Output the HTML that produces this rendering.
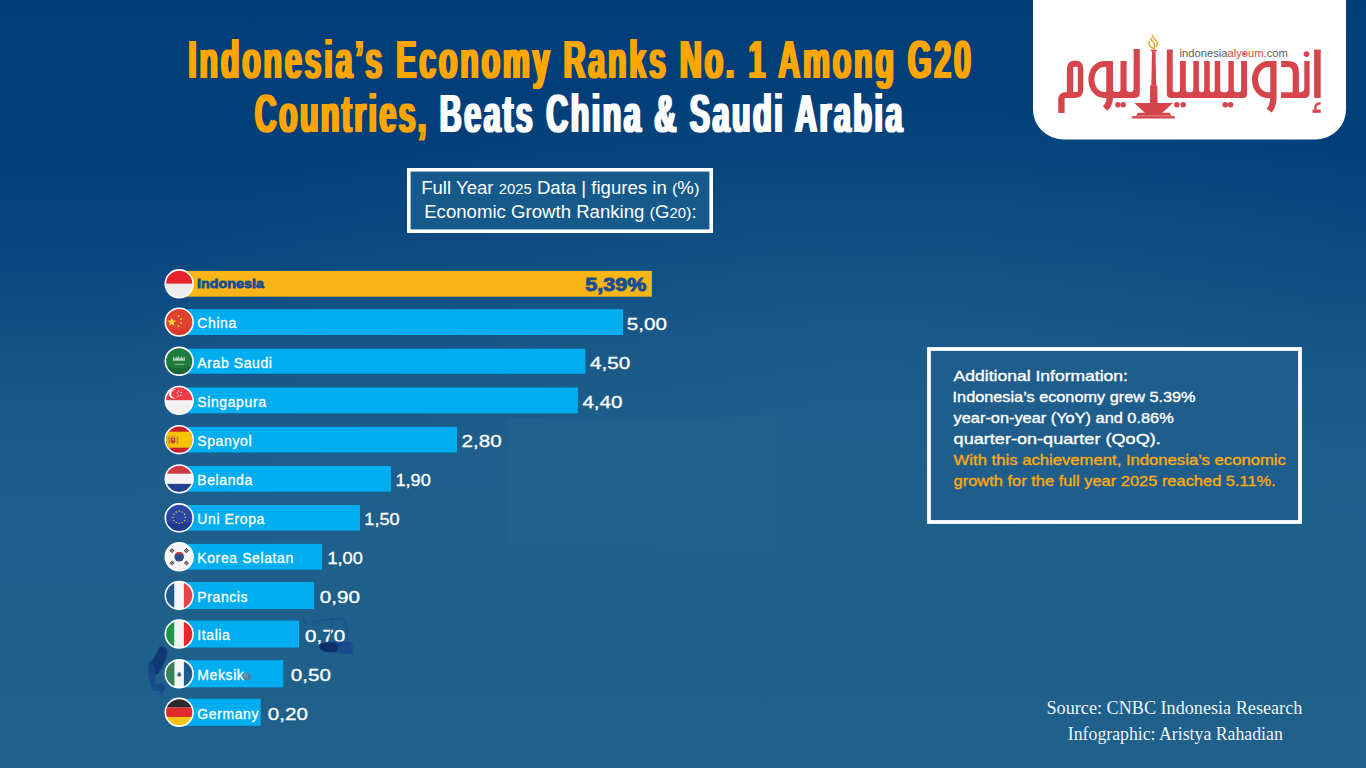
<!DOCTYPE html>
<html>
<head>
<meta charset="utf-8">
<style>
html,body{margin:0;padding:0;width:1366px;height:768px;overflow:hidden;}
body{background:linear-gradient(to bottom,#013e79 0px,#03407b 150px,#0a4680 250px,#0e4b82 300px,#175586 375px,#1d5d8a 450px,#1f5f8b 540px,#20618c 768px);font-family:"Liberation Sans",sans-serif;}
svg{position:absolute;left:0;top:0;}
#ov{position:absolute;left:0;top:0;width:1366px;height:768px;background:radial-gradient(ellipse 800px 300px at 870px 380px,rgba(33,99,141,0.6) 0%,rgba(33,99,141,0) 100%);}
.t{font-family:"Liberation Sans",sans-serif;}
.s{font-family:"Liberation Serif",serif;}
</style>
</head>
<body>
<div id="ov"></div>
<svg width="1366" height="768" viewBox="0 0 1366 768">
<defs>
  <clipPath id="cc"><circle cx="0" cy="0" r="13.1"/></clipPath>
</defs>

<rect x="507" y="418" width="269" height="127" fill="#22648e" opacity="0.6"/>
<!-- TITLE -->
<g font-family="Liberation Sans" font-size="54.0" font-weight="bold">
<text transform="translate(187.00,78.1) scale(0.56,1)" x="0" y="0" fill="#fea600" textLength="1397.32" lengthAdjust="spacing">Indonesia’s Economy Ranks No. 1 Among G20</text>
<text transform="translate(189.60,78.1) scale(0.56,1)" x="0" y="0" fill="#fea600" textLength="1397.32" lengthAdjust="spacing">Indonesia’s Economy Ranks No. 1 Among G20</text>
<text transform="translate(253.50,132.1) scale(0.56,1)" x="0" y="0" fill="#fea600" textLength="306.25" lengthAdjust="spacing">Countries,</text>
<text transform="translate(256.10,132.1) scale(0.56,1)" x="0" y="0" fill="#fea600" textLength="306.25" lengthAdjust="spacing">Countries,</text>
<text transform="translate(438.50,132.1) scale(0.56,1)" x="0" y="0" fill="#ffffff" textLength="825.89" lengthAdjust="spacing">Beats China &amp; Saudi Arabia</text>
<text transform="translate(441.10,132.1) scale(0.56,1)" x="0" y="0" fill="#ffffff" textLength="825.89" lengthAdjust="spacing">Beats China &amp; Saudi Arabia</text>
</g>

<!-- SUBTITLE BOX -->
<rect x="408.8" y="169.8" width="302.4" height="61.4" fill="#165a8c" stroke="#ffffff" stroke-width="3.6"/>
<text class="t" x="421.2" y="194" font-size="17.5" fill="#ffffff" textLength="278.2" lengthAdjust="spacingAndGlyphs">Full Year <tspan font-size="14">2025</tspan> Data | figures in <tspan font-size="15.5">(</tspan>%<tspan font-size="15.5">)</tspan></text>
<text class="t" x="424.2" y="217.8" font-size="17.5" fill="#ffffff" textLength="272.6" lengthAdjust="spacingAndGlyphs">Economic Growth Ranking <tspan font-size="15.5">(</tspan>G<tspan font-size="14">20</tspan><tspan font-size="15.5">)</tspan>:</text>

<!-- BARS -->
<g id="bars">
<rect x="182" y="270.90" width="469.90" height="25.80" fill="#f7b517"/>
<rect x="182" y="309.20" width="441.00" height="25.80" fill="#00adee"/>
<rect x="182" y="348.75" width="403.40" height="25.00" fill="#00adee"/>
<rect x="182" y="387.50" width="395.90" height="25.80" fill="#00adee"/>
<rect x="182" y="426.90" width="275.00" height="25.60" fill="#00adee"/>
<rect x="182" y="466.00" width="208.90" height="25.70" fill="#00adee"/>
<rect x="182" y="505.00" width="178.00" height="25.60" fill="#00adee"/>
<rect x="182" y="543.90" width="139.90" height="25.80" fill="#00adee"/>
<rect x="182" y="581.90" width="132.00" height="27.10" fill="#00adee"/>
<rect x="182" y="620.60" width="117.00" height="26.90" fill="#00adee"/>
<rect x="182" y="660.20" width="101.30" height="27.10" fill="#00adee"/>
<rect x="182" y="698.75" width="78.80" height="27.05" fill="#00adee"/>
<g transform="translate(179.2,283.80)"><circle r="14.7" fill="#ffffff"/><g clip-path="url(#cc)"><rect x="-15" y="-15" width="30" height="15" fill="#e8232b"/><rect x="-15" y="0" width="30" height="15" fill="#ececec"/></g></g>
<g transform="translate(179.2,322.10)"><circle r="14.7" fill="#ffffff"/><g clip-path="url(#cc)"><rect x="-15" y="-15" width="30" height="30" fill="#e0402f"/><path d="M-8.6,-5.6 l1.3,3.1 3.3,0.2 -2.6,2.1 0.9,3.2 -2.9,-1.8 -2.8,1.8 0.9,-3.2 -2.6,-2.1 3.3,-0.2z" fill="#ffd83a" transform="translate(1.1,0.8)"/><circle cx="-0.7" cy="-5.9" r="0.9" fill="#ffd83a"/><circle cx="1.8" cy="-3" r="0.9" fill="#ffd83a"/><circle cx="1.8" cy="0.9" r="0.9" fill="#ffd83a"/><circle cx="-0.7" cy="3.9" r="0.9" fill="#ffd83a"/><path d="M-15,6 Q0,11 15,6 V15 H-15Z" fill="#c8312a" opacity="0.5"/></g></g>
<g transform="translate(179.2,361.25)"><circle r="14.7" fill="#ffffff"/><g clip-path="url(#cc)"><rect x="-15" y="-15" width="30" height="30" fill="#1f7b3c"/><path d="M-15,4 Q0,10 15,4 V15 H-15Z" fill="#156030" opacity="0.7"/><g fill="#e6f0e8"><rect x="-6" y="-4.4" width="0.8" height="3.2"/><rect x="-4.6" y="-3.4" width="0.8" height="2.2"/><rect x="-3.4" y="-4.6" width="0.8" height="3.4"/><rect x="-2" y="-3.6" width="0.8" height="2.4"/><rect x="-0.8" y="-4.8" width="0.8" height="3.6"/><rect x="0.6" y="-3.4" width="0.8" height="2.2"/><rect x="1.8" y="-4.6" width="0.8" height="3.4"/><rect x="3.2" y="-3.8" width="0.8" height="2.6"/><rect x="4.6" y="-4.4" width="0.8" height="3.2"/><rect x="-6.2" y="-1.6" width="11.8" height="0.9"/></g><rect x="-5" y="2.6" width="10" height="0.7" fill="#e6f0e8" opacity="0.8"/></g></g>
<g transform="translate(179.2,400.40)"><circle r="14.7" fill="#ffffff"/><g clip-path="url(#cc)"><rect x="-15" y="-15" width="30" height="15" fill="#ee3b47"/><rect x="-15" y="0" width="30" height="15" fill="#f1f1f1"/><circle cx="-5.5" cy="-6.5" r="4.6" fill="#ffffff"/><circle cx="-3.8" cy="-6.5" r="4.2" fill="#ee3b47"/><circle cx="-0.5" cy="-9.5" r="0.7" fill="#ffffff"/><circle cx="2" cy="-8" r="0.7" fill="#ffffff"/><circle cx="1.5" cy="-5" r="0.7" fill="#ffffff"/><circle cx="-1" cy="-4.5" r="0.7" fill="#ffffff"/><circle cx="-2" cy="-7.5" r="0.7" fill="#ffffff"/></g></g>
<g transform="translate(179.2,439.70)"><circle r="14.7" fill="#ffffff"/><g clip-path="url(#cc)"><rect x="-15" y="-15" width="30" height="30" fill="#c8202a"/><rect x="-15" y="-8" width="30" height="16" fill="#f7c200"/><rect x="-10.8" y="-3" width="1.6" height="7" fill="#b88a2a"/><rect x="-2.6" y="-3" width="1.6" height="7" fill="#b88a2a"/><path d="M-8.6,-2.2 H-3.8 V2.6 Q-6.2,5.4 -8.6,2.6 Z" fill="#c23a2c" stroke="#d9a23a" stroke-width="0.6"/><path d="M-8.4,-2.6 L-8.8,-4.6 L-7.3,-3.8 L-6.2,-5.2 L-5.1,-3.8 L-3.6,-4.6 L-4,-2.6 Z" fill="#d49a2a"/><rect x="-6.7" y="-1" width="1.2" height="1.6" fill="#e8c8c0"/></g></g>
<g transform="translate(179.2,478.85)"><circle r="14.7" fill="#ffffff"/><g clip-path="url(#cc)"><rect x="-15" y="-15" width="30" height="10" fill="#cf3a45"/><rect x="-15" y="-5" width="30" height="10" fill="#f4f4f4"/><rect x="-15" y="5" width="30" height="10" fill="#24418f"/></g></g>
<g transform="translate(179.2,517.80)"><circle r="14.7" fill="#ffffff"/><g clip-path="url(#cc)"><rect x="-15" y="-15" width="30" height="30" fill="#2a47a6"/><path d="M-15,3 Q0,9 15,3 V15 H-15Z" fill="#1f3a92"/><circle cx="6.10" cy="-0.50" r="0.7" fill="#f3d23a"/><circle cx="5.28" cy="2.55" r="0.7" fill="#f3d23a"/><circle cx="3.05" cy="4.78" r="0.7" fill="#f3d23a"/><circle cx="0.00" cy="5.60" r="0.7" fill="#f3d23a"/><circle cx="-3.05" cy="4.78" r="0.7" fill="#f3d23a"/><circle cx="-5.28" cy="2.55" r="0.7" fill="#f3d23a"/><circle cx="-6.10" cy="-0.50" r="0.7" fill="#f3d23a"/><circle cx="-5.28" cy="-3.55" r="0.7" fill="#f3d23a"/><circle cx="-3.05" cy="-5.78" r="0.7" fill="#f3d23a"/><circle cx="-0.00" cy="-6.60" r="0.7" fill="#f3d23a"/><circle cx="3.05" cy="-5.78" r="0.7" fill="#f3d23a"/><circle cx="5.28" cy="-3.55" r="0.7" fill="#f3d23a"/></g></g>
<g transform="translate(179.2,556.80)"><circle r="14.7" fill="#ffffff"/><g clip-path="url(#cc)"><rect x="-15" y="-15" width="30" height="30" fill="#f5f5f5"/><circle r="4.8" fill="#2d4f8a"/><path d="M-4.4,-2 A4.8,4.8 0 0 1 4.4,-2 Q0,-3.6 -4.4,-2Z" fill="#d7343e"/><g transform="translate(-7.2,-6.2) rotate(45)"><rect x="-1.9" y="-1.7" width="3.8" height="0.9" fill="#3a3a3a"/><rect x="-1.9" y="-0.45" width="3.8" height="0.9" fill="#3a3a3a"/><rect x="-1.9" y="0.8" width="3.8" height="0.9" fill="#3a3a3a"/></g><g transform="translate(7.2,-6.2) rotate(-45)"><rect x="-1.9" y="-1.7" width="3.8" height="0.9" fill="#3a3a3a"/><rect x="-1.9" y="-0.45" width="3.8" height="0.9" fill="#3a3a3a"/><rect x="-1.9" y="0.8" width="3.8" height="0.9" fill="#3a3a3a"/></g><g transform="translate(-7.2,6.2) rotate(-45)"><rect x="-1.9" y="-1.7" width="3.8" height="0.9" fill="#3a3a3a"/><rect x="-1.9" y="-0.45" width="3.8" height="0.9" fill="#3a3a3a"/><rect x="-1.9" y="0.8" width="3.8" height="0.9" fill="#3a3a3a"/></g><g transform="translate(7.2,6.2) rotate(45)"><rect x="-1.9" y="-1.7" width="3.8" height="0.9" fill="#3a3a3a"/><rect x="-1.9" y="-0.45" width="3.8" height="0.9" fill="#3a3a3a"/><rect x="-1.9" y="0.8" width="3.8" height="0.9" fill="#3a3a3a"/></g></g></g>
<g transform="translate(179.2,595.45)"><circle r="14.7" fill="#ffffff"/><g clip-path="url(#cc)"><rect x="-15" y="-15" width="10.3" height="30" fill="#1d5b8e"/><rect x="-4.7" y="-15" width="9.4" height="30" fill="#f5f5f5"/><rect x="4.7" y="-15" width="10.3" height="30" fill="#e6444f"/></g></g>
<g transform="translate(179.2,634.05)"><circle r="14.7" fill="#ffffff"/><g clip-path="url(#cc)"><rect x="-15" y="-15" width="10.3" height="30" fill="#1e9447"/><rect x="-4.7" y="-15" width="9.4" height="30" fill="#f1f1f1"/><rect x="4.7" y="-15" width="10.3" height="30" fill="#e8262f"/></g></g>
<g transform="translate(179.2,673.75)"><circle r="14.7" fill="#ffffff"/><g clip-path="url(#cc)"><rect x="-15" y="-15" width="10.3" height="30" fill="#3d8a66"/><rect x="-4.7" y="-15" width="9.4" height="30" fill="#f5f5f5"/><rect x="4.7" y="-15" width="10.3" height="30" fill="#1d5b8e"/><path d="M-15,-15 H-4.7 V15 H-15Z" fill="#2d7a4e" opacity="0.5"/><ellipse cx="0" cy="0.5" rx="1.6" ry="2.1" fill="#2c5a8c"/><path d="M-2.5,1.5 Q0,4 2.5,1.5" stroke="#3d8a66" stroke-width="0.8" fill="none"/></g></g>
<g transform="translate(179.2,712.27)"><circle r="14.7" fill="#ffffff"/><g clip-path="url(#cc)"><rect x="-15" y="-15" width="30" height="10.3" fill="#2b2b2b"/><rect x="-15" y="-4.7" width="30" height="9.4" fill="#e02a2c"/><rect x="-15" y="4.7" width="30" height="10.3" fill="#f8c617"/></g></g>
<text class="t" x="197.0" y="287.9" font-size="13.6" font-weight="bold" fill="#1b4d92" stroke="#1b4d92" stroke-width="0.8" textLength="67" lengthAdjust="spacingAndGlyphs">Indonesia</text>
<text class="t" x="585.3" y="291.20" font-size="18.4" font-weight="bold" fill="#1b4d92" stroke="#1b4d92" stroke-width="0.9" textLength="61" lengthAdjust="spacingAndGlyphs">5,39%</text>
<text class="t" x="197.3" y="328.40" font-size="14" fill="#ffffff" letter-spacing="0.6" stroke="#ffffff" stroke-width="0.3">China</text>
<text class="t" x="626.80" y="329.60" font-size="16.4" fill="#ffffff" stroke="#ffffff" stroke-width="0.3" textLength="40.2" lengthAdjust="spacingAndGlyphs">5,00</text>
<text class="t" x="197.3" y="367.55" font-size="14" fill="#ffffff" letter-spacing="0.6" stroke="#ffffff" stroke-width="0.3">Arab Saudi</text>
<text class="t" x="590.10" y="368.75" font-size="16.4" fill="#ffffff" stroke="#ffffff" stroke-width="0.3" textLength="40.2" lengthAdjust="spacingAndGlyphs">4,50</text>
<text class="t" x="197.3" y="406.70" font-size="14" fill="#ffffff" letter-spacing="0.6" stroke="#ffffff" stroke-width="0.3">Singapura</text>
<text class="t" x="582.40" y="407.90" font-size="16.4" fill="#ffffff" stroke="#ffffff" stroke-width="0.3" textLength="40.2" lengthAdjust="spacingAndGlyphs">4,40</text>
<text class="t" x="197.3" y="446.00" font-size="14" fill="#ffffff" letter-spacing="0.6" stroke="#ffffff" stroke-width="0.3">Spanyol</text>
<text class="t" x="461.60" y="447.20" font-size="16.4" fill="#ffffff" stroke="#ffffff" stroke-width="0.3" textLength="40.2" lengthAdjust="spacingAndGlyphs">2,80</text>
<text class="t" x="197.3" y="485.15" font-size="14" fill="#ffffff" letter-spacing="0.6" stroke="#ffffff" stroke-width="0.3">Belanda</text>
<text class="t" x="395.50" y="486.35" font-size="16.4" fill="#ffffff" stroke="#ffffff" stroke-width="0.3" textLength="35.3" lengthAdjust="spacingAndGlyphs">1,90</text>
<text class="t" x="197.3" y="524.10" font-size="14" fill="#ffffff" letter-spacing="0.6" stroke="#ffffff" stroke-width="0.3">Uni Eropa</text>
<text class="t" x="364.30" y="525.30" font-size="16.4" fill="#ffffff" stroke="#ffffff" stroke-width="0.3" textLength="35.3" lengthAdjust="spacingAndGlyphs">1,50</text>
<text class="t" x="197.3" y="563.10" font-size="14" fill="#ffffff" letter-spacing="0.6" stroke="#ffffff" stroke-width="0.3">Korea Selatan</text>
<text class="t" x="327.50" y="564.30" font-size="16.4" fill="#ffffff" stroke="#ffffff" stroke-width="0.3" textLength="35.3" lengthAdjust="spacingAndGlyphs">1,00</text>
<text class="t" x="197.3" y="601.75" font-size="14" fill="#ffffff" letter-spacing="0.6" stroke="#ffffff" stroke-width="0.3">Prancis</text>
<text class="t" x="319.70" y="602.95" font-size="16.4" fill="#ffffff" stroke="#ffffff" stroke-width="0.3" textLength="40.2" lengthAdjust="spacingAndGlyphs">0,90</text>
<text class="t" x="197.3" y="640.35" font-size="14" fill="#ffffff" letter-spacing="0.6" stroke="#ffffff" stroke-width="0.3">Italia</text>
<text class="t" x="305.10" y="641.55" font-size="16.4" fill="#ffffff" stroke="#ffffff" stroke-width="0.3" textLength="40.2" lengthAdjust="spacingAndGlyphs">0,70</text>
<text class="t" x="197.3" y="680.05" font-size="14" fill="#ffffff" letter-spacing="0.6" stroke="#ffffff" stroke-width="0.3">Meksik</text>
<ellipse cx="247" cy="676.45" rx="3.9" ry="3.8" fill="#4f7fa6"/><ellipse cx="246" cy="675.75" rx="2.2" ry="2.2" fill="#6f97b8" opacity="0.8"/>
<text class="t" x="290.80" y="681.25" font-size="16.4" fill="#ffffff" stroke="#ffffff" stroke-width="0.3" textLength="40.2" lengthAdjust="spacingAndGlyphs">0,50</text>
<text class="t" x="197.3" y="718.57" font-size="14" fill="#ffffff" letter-spacing="0.6" stroke="#ffffff" stroke-width="0.3">Germany</text>
<text class="t" x="267.85" y="719.77" font-size="16.4" fill="#ffffff" stroke="#ffffff" stroke-width="0.3" textLength="40.2" lengthAdjust="spacingAndGlyphs">0,20</text>
<g>
<path d="M318.5,646.5 C319,641.5 327,641.2 336,641.6 C344,641.3 352.5,641.8 352.6,644 L352.7,653.7 C347,654.3 340,653.6 334,652.4 C326,652.8 319,651.5 318.5,646.5 Z" fill="#16488a" opacity="0.9"/>
<path d="M319,646.8 C320,642.5 327,642.3 334,642.8 C338.5,643.5 338.8,649 336,651.6 C330,652.8 321,652 319,646.8 Z" fill="#0d2c5f" opacity="0.85"/>
<path d="M313.5,623 C322,619.5 334,618.5 344.8,619.2 M344.8,619.2 C346.5,626 347.5,634 347.8,641.5 M302.5,616.8 L305.6,624.5 M333,621 C331,628 330,634 330,640" stroke="#1a4a8c" stroke-width="1.1" fill="none" opacity="0.8"/>
<path d="M159.5,647 C164,645.5 167.8,648 167.2,653 C166.5,659 163,666 159,672.5 C156,676 152,676 150,672 C148,668 148.5,664 151.5,661.5 C154.5,659 156,653 159.5,647 Z" fill="#0f3471" opacity="0.9"/>
<path d="M148,664 C150,662 153,663 154.5,667 C156,673 156,680 155,685 C160,682 164,683 165.2,686.5 C166,690 163.5,690.5 162.6,693 L162.5,697.5 C160.5,696 160.6,692.5 158.5,690.5 C156,692 152,691 151,688 C149.5,681 147.5,672 148,664 Z" fill="#174a88" opacity="0.85"/>
</g>
</g>

<!-- INFO BOX -->
<rect x="929" y="349" width="371" height="173" fill="#1f5d8c" stroke="#ffffff" stroke-width="3.8"/>
<g class="t" font-size="14.8" fill="#ffffff" stroke="#ffffff" stroke-width="0.35">
<text x="953.6" y="381" textLength="174.4" lengthAdjust="spacingAndGlyphs">Additional Information:</text>
<text x="952.6" y="402.2" textLength="243" lengthAdjust="spacingAndGlyphs">Indonesia’s economy grew 5.39%</text>
<text x="953.6" y="423.2" textLength="220.1" lengthAdjust="spacingAndGlyphs">year-on-year (YoY) and 0.86%</text>
<text x="953.6" y="444.2" textLength="207.2" lengthAdjust="spacingAndGlyphs">quarter-on-quarter (QoQ).</text>
<text x="953.6" y="465.3" textLength="332.3" lengthAdjust="spacingAndGlyphs" fill="#f9ab0f" stroke="#f9ab0f">With this achievement, Indonesia’s economic</text>
<text x="953.6" y="486.3" textLength="322.2" lengthAdjust="spacingAndGlyphs" fill="#f9ab0f" stroke="#f9ab0f">growth for the full year 2025 reached 5.11%.</text>
</g>

<!-- SOURCE -->
<text class="s" x="1046.5" y="714.2" font-size="18.6" fill="#ffffff" fill-opacity="0.95" textLength="255.8" lengthAdjust="spacingAndGlyphs">Source: CNBC Indonesia Research</text>
<text class="s" x="1067.8" y="740" font-size="17.8" fill="#ffffff" fill-opacity="0.95" textLength="215" lengthAdjust="spacingAndGlyphs">Infographic: Aristya Rahadian</text>

<!-- LOGO BOX -->
<path d="M1033,0 H1346 V109.4 A30,30 0 0 1 1316,139.4 H1063 A30,30 0 0 1 1033,109.4 Z" fill="#ffffff"/>
<g id="logo">
<g fill="#d6454b">
<rect x="1314.1" y="49.6" width="6.6" height="48.3"/>
<path d="M1320.6,103.6 C1316.8,102.8 1314.6,105.2 1315.6,109.8" stroke="#d6454b" stroke-width="2.4" fill="none"/>
<rect x="1312.5" y="109.6" width="8.3" height="3.2"/>
<circle cx="1306.5" cy="54.1" r="2.9"/>
<path d="M1304.3,60.9 H1309.6 V93 Q1309.6,98 1304.6,98 H1281.1 V92.3 H1298.9 V72 Q1298.9,60.9 1288,60.9 H1281.1 V67.1 H1287.5 Q1292.7,67.1 1292.7,73 V92.3 H1299.8 Q1304.3,92.3 1304.3,88 Z"/>
<path d="M1273.4,61 V98 Q1273.4,105 1269.3,110.8" stroke="#d6454b" stroke-width="6.3" fill="none"/>
<path d="M1273.4,64 H1268 A13,15.6 0 0 0 1268,95.2 H1273.4" stroke="#d6454b" stroke-width="6.1" fill="none"/>
<path d="M1166.8,49.6 H1172.7 V61 H1247 V94 Q1247,98 1243,98 H1171 Q1166.8,98 1166.8,94 Z"/>
<rect x="1172.7" y="58.5" width="7.3" height="33.7" rx="2.9" fill="#ffffff"/>
<rect x="1185.8" y="58.5" width="7.5" height="33.7" rx="2.9" fill="#ffffff"/>
<rect x="1198.9" y="58.5" width="5.3" height="33.7" rx="2.9" fill="#ffffff"/>
<rect x="1209.7" y="58.5" width="5.0" height="33.7" rx="2.9" fill="#ffffff"/>
<rect x="1220.2" y="58.5" width="8.2" height="33.7" rx="2.9" fill="#ffffff"/>
<rect x="1233.8" y="58.5" width="7.3" height="33.7" rx="2.9" fill="#ffffff"/>
<circle cx="1176.9" cy="104.7" r="2.75"/>
<circle cx="1183.2" cy="104.7" r="2.75"/>
<circle cx="1225.2" cy="104.7" r="2.75"/>
<circle cx="1230.6" cy="104.7" r="2.75"/>
<path d="M1133.6,49.1 H1139.8 V93 Q1139.8,97.9 1135,97.9 H1106.5 V61 H1133.6 Z"/>
<rect x="1112.9" y="58.5" width="7.6" height="33.5" rx="2.9" fill="#ffffff"/>
<rect x="1126.6" y="58.5" width="7.0" height="33.5" rx="2.9" fill="#ffffff"/>
<circle cx="1117.9" cy="104.7" r="2.7"/>
<circle cx="1123.2" cy="104.7" r="2.7"/>
<path d="M1109.7,61 V98 Q1109.7,104 1105.2,108.6" stroke="#d6454b" stroke-width="6.4" fill="none"/>
<path d="M1109.7,63.9 H1104 A12.6,15.5 0 0 0 1104,94.9 H1109.7" stroke="#d6454b" stroke-width="6.0" fill="none"/>
<path d="M1075.1,60.5 Q1083.3,60.5 1083.3,69 V89.5 Q1083.3,97.9 1075,97.9 H1065 Q1064.6,97.9 1064.6,99 V112.9 H1058.2 V100 Q1058.2,92 1066.9,92 V69 Q1066.9,60.5 1075.1,60.5 Z M1073.2,66.9 V92 H1077.8 V66.9 Q1075.5,66.4 1073.2,66.9 Z" fill-rule="evenodd"/>
<rect x="1150.8" y="49.6" width="5.9" height="1.8"/>
<path d="M1152,51.3 H1155.5 L1156.2,85.5 H1151.3 Z"/>
<path d="M1150.2,85.3 H1157.3 L1157.6,103 H1149.9 Z"/>
<path d="M1134.4,102.9 H1173.1 L1162,112.9 H1145 Z"/>
<path d="M1137.8,112.8 H1169.8 L1171.4,115.7 H1136.2 Z"/>
<rect x="1132.1" y="116.1" width="42.7" height="2.4"/>
</g>
<g fill="none" stroke="#efa62e" stroke-width="1.45" stroke-linecap="round">
<path d="M1149.3,41.8 C1148.6,44.5 1150.5,47.3 1153.8,48.6"/>
<path d="M1150.8,38.2 C1151.5,41 1155.4,43 1154.6,46 C1154.4,47 1154.2,47.8 1154.1,48.5"/>
<path d="M1152.3,35.3 C1152.8,38.5 1157.8,40.5 1157.3,43.8 C1157.1,45 1156.6,45.8 1156.2,46.4"/>
</g>
<text class="t" x="1179.6" y="56.8" font-size="10.6" fill="#5b5b5b" textLength="108.3" lengthAdjust="spacingAndGlyphs">indonesia<tspan fill="#d6454b">alyoum</tspan>.com</text>
<circle cx="1244.5" cy="53.9" r="1.35" fill="#d6454b"/>
</g>
</svg>
</body>
</html>
